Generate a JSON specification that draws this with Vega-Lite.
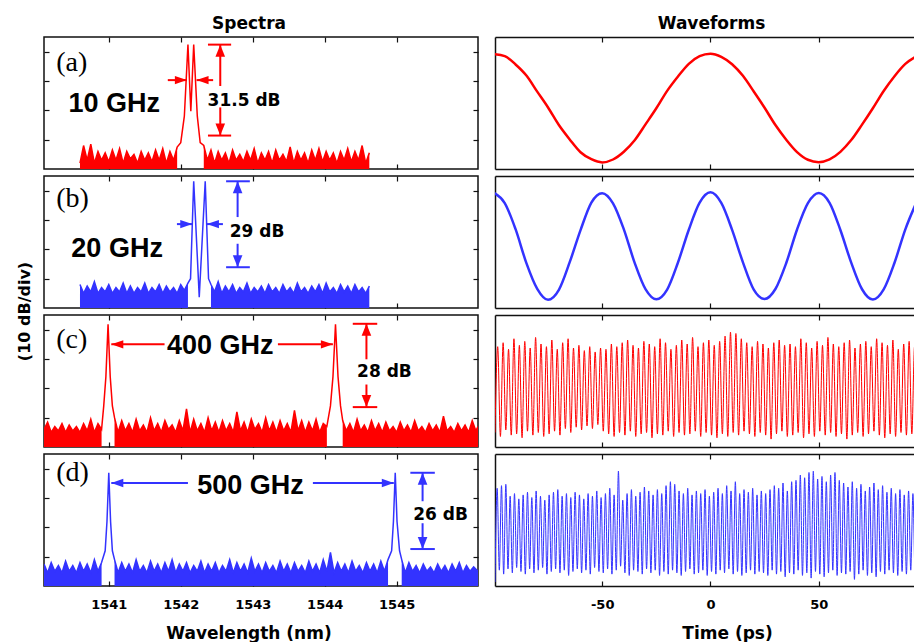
{
"$schema":"https://vega.github.io/schema/vega-lite/v6.json",
"padding":{"left":15,"top":14,"right":0,"bottom":0},
"bounds":"flush",
"config":{
 "view":{"stroke":"#111","strokeWidth":1.5},
 "font":"DejaVu Sans",
 "axis":{"domain":false,"domainColor":"#111","domainWidth":1.5,"grid":false,"ticks":true,"tickSize":-5,"tickColor":"#111","tickWidth":1.2,"labelFont":"DejaVu Sans","labelFontSize":13,"labelFontWeight":"bold","labelColor":"#000","labelPadding":17,"titleFont":"DejaVu Sans","titleFontSize":17,"titleFontWeight":"bold","titleColor":"#000"},
 "title":{"font":"DejaVu Sans","fontSize":17,"fontWeight":"bold","color":"#000","anchor":"middle","baseline":"alphabetic","offset":3}
},
"datasets":{
"sa":[{"x":1540.6,"y":2,"g":1},{"x":1540.65,"y":8,"g":1},{"x":1540.7,"y":3,"g":1},{"x":1540.75,"y":8.5,"g":1},{"x":1540.8,"y":2,"g":1},{"x":1540.85,"y":6,"g":1},{"x":1540.9,"y":3,"g":1},{"x":1540.95,"y":5.5,"g":1},{"x":1541,"y":2.5,"g":1},{"x":1541.05,"y":6.5,"g":1},{"x":1541.1,"y":3,"g":1},{"x":1541.15,"y":7,"g":1},{"x":1541.2,"y":2,"g":1},{"x":1541.25,"y":6,"g":1},{"x":1541.3,"y":3.5,"g":1},{"x":1541.35,"y":5,"g":1},{"x":1541.4,"y":2,"g":1},{"x":1541.45,"y":6,"g":1},{"x":1541.5,"y":3,"g":1},{"x":1541.55,"y":5.5,"g":1},{"x":1541.6,"y":2.5,"g":1},{"x":1541.65,"y":6.5,"g":1},{"x":1541.7,"y":3,"g":1},{"x":1541.75,"y":7,"g":1},{"x":1541.8,"y":2,"g":1},{"x":1541.85,"y":6,"g":1},{"x":1541.9,"y":3,"g":1},{"x":1541.95,"y":7.5,"g":1},
{"x":1542,"y":9,"g":"p"},{"x":1542.05,"y":18,"g":"p"},{"x":1542.1,"y":42.4,"g":"p"},{"x":1542.14,"y":19.7,"g":"p"},{"x":1542.18,"y":42.4,"g":"p"},{"x":1542.23,"y":18,"g":"p"},{"x":1542.27,"y":9,"g":"p"},
{"x":1542.32,"y":8,"g":2},{"x":1542.37,"y":3,"g":2},{"x":1542.42,"y":6.5,"g":2},{"x":1542.47,"y":2,"g":2},{"x":1542.52,"y":6,"g":2},{"x":1542.57,"y":3,"g":2},{"x":1542.62,"y":5.5,"g":2},{"x":1542.67,"y":2,"g":2},{"x":1542.72,"y":6.5,"g":2},{"x":1542.77,"y":3,"g":2},{"x":1542.82,"y":5,"g":2},{"x":1542.87,"y":2.5,"g":2},{"x":1542.92,"y":6,"g":2},{"x":1542.97,"y":3,"g":2},{"x":1543.02,"y":7,"g":2},{"x":1543.07,"y":2,"g":2},{"x":1543.12,"y":5.5,"g":2},{"x":1543.17,"y":3,"g":2},{"x":1543.22,"y":6,"g":2},{"x":1543.27,"y":2,"g":2},{"x":1543.32,"y":6.5,"g":2},{"x":1543.37,"y":3,"g":2},{"x":1543.42,"y":5,"g":2},{"x":1543.47,"y":2.5,"g":2},{"x":1543.52,"y":7.5,"g":2},{"x":1543.57,"y":2,"g":2},{"x":1543.62,"y":6,"g":2},{"x":1543.67,"y":3,"g":2},{"x":1543.72,"y":5.5,"g":2},{"x":1543.77,"y":2,"g":2},{"x":1543.82,"y":6.5,"g":2},{"x":1543.87,"y":3,"g":2},{"x":1543.92,"y":7,"g":2},{"x":1543.97,"y":2.5,"g":2},{"x":1544.02,"y":6,"g":2},{"x":1544.07,"y":3,"g":2},{"x":1544.12,"y":5.5,"g":2},{"x":1544.17,"y":2,"g":2},{"x":1544.22,"y":6,"g":2},{"x":1544.27,"y":3,"g":2},{"x":1544.32,"y":7,"g":2},{"x":1544.37,"y":2.5,"g":2},{"x":1544.42,"y":6,"g":2},{"x":1544.47,"y":3,"g":2},{"x":1544.52,"y":8,"g":2},{"x":1544.57,"y":2,"g":2},{"x":1544.62,"y":5.5,"g":2}],
"sb":[{"x":1540.6,"y":8,"g":1},{"x":1540.65,"y":5,"g":1},{"x":1540.7,"y":7.5,"g":1},{"x":1540.75,"y":5.5,"g":1},{"x":1540.8,"y":9,"g":1},{"x":1540.85,"y":5,"g":1},{"x":1540.9,"y":7,"g":1},{"x":1540.95,"y":5.5,"g":1},{"x":1541,"y":8,"g":1},{"x":1541.05,"y":5,"g":1},{"x":1541.1,"y":7,"g":1},{"x":1541.15,"y":5.5,"g":1},{"x":1541.2,"y":8.5,"g":1},{"x":1541.25,"y":5,"g":1},{"x":1541.3,"y":7.5,"g":1},{"x":1541.35,"y":5,"g":1},{"x":1541.4,"y":7,"g":1},{"x":1541.45,"y":5.5,"g":1},{"x":1541.5,"y":8.5,"g":1},{"x":1541.55,"y":5,"g":1},{"x":1541.6,"y":7,"g":1},{"x":1541.65,"y":5.5,"g":1},{"x":1541.7,"y":8,"g":1},{"x":1541.75,"y":5,"g":1},{"x":1541.8,"y":7.5,"g":1},{"x":1541.85,"y":5.5,"g":1},{"x":1541.9,"y":7,"g":1},{"x":1541.95,"y":5,"g":1},{"x":1542,"y":8,"g":1},{"x":1542.05,"y":6,"g":1},{"x":1542.1,"y":8.5,"g":1},
{"x":1542.136,"y":10,"g":"p"},{"x":1542.18,"y":43.2,"g":"p"},{"x":1542.257,"y":3.7,"g":"p"},{"x":1542.34,"y":43.2,"g":"p"},{"x":1542.386,"y":10,"g":"p"},
{"x":1542.42,"y":8,"g":2},{"x":1542.47,"y":5.5,"g":2},{"x":1542.52,"y":9,"g":2},{"x":1542.57,"y":5,"g":2},{"x":1542.62,"y":7.5,"g":2},{"x":1542.67,"y":5.5,"g":2},{"x":1542.72,"y":8,"g":2},{"x":1542.77,"y":5,"g":2},{"x":1542.82,"y":7,"g":2},{"x":1542.87,"y":5.5,"g":2},{"x":1542.92,"y":8.5,"g":2},{"x":1542.97,"y":5,"g":2},{"x":1543.02,"y":7,"g":2},{"x":1543.07,"y":5.5,"g":2},{"x":1543.12,"y":7.5,"g":2},{"x":1543.17,"y":5,"g":2},{"x":1543.22,"y":8,"g":2},{"x":1543.27,"y":5.5,"g":2},{"x":1543.32,"y":7,"g":2},{"x":1543.37,"y":5,"g":2},{"x":1543.42,"y":8,"g":2},{"x":1543.47,"y":5.5,"g":2},{"x":1543.52,"y":7,"g":2},{"x":1543.57,"y":5,"g":2},{"x":1543.62,"y":8.5,"g":2},{"x":1543.67,"y":5.5,"g":2},{"x":1543.72,"y":7,"g":2},{"x":1543.77,"y":5,"g":2},{"x":1543.82,"y":7.5,"g":2},{"x":1543.87,"y":5.5,"g":2},{"x":1543.92,"y":8,"g":2},{"x":1543.97,"y":5,"g":2},{"x":1544.02,"y":8.5,"g":2},{"x":1544.07,"y":5.5,"g":2},{"x":1544.12,"y":7,"g":2},{"x":1544.17,"y":5,"g":2},{"x":1544.22,"y":8,"g":2},{"x":1544.27,"y":5.5,"g":2},{"x":1544.32,"y":7.5,"g":2},{"x":1544.37,"y":5,"g":2},{"x":1544.42,"y":8,"g":2},{"x":1544.47,"y":5.5,"g":2},{"x":1544.52,"y":7,"g":2},{"x":1544.57,"y":5,"g":2},{"x":1544.62,"y":7.5,"g":2}],
"sc":[{"x":1540.1,"y":6,"g":1},{"x":1540.15,"y":8.5,"g":1},{"x":1540.2,"y":5,"g":1},{"x":1540.25,"y":7,"g":1},{"x":1540.3,"y":5.5,"g":1},{"x":1540.35,"y":8,"g":1},{"x":1540.4,"y":5,"g":1},{"x":1540.45,"y":7.5,"g":1},{"x":1540.5,"y":5.5,"g":1},{"x":1540.55,"y":7,"g":1},{"x":1540.6,"y":5,"g":1},{"x":1540.65,"y":8,"g":1},{"x":1540.7,"y":5.5,"g":1},{"x":1540.75,"y":9.5,"g":1},{"x":1540.8,"y":5,"g":1},{"x":1540.85,"y":8,"g":1},{"x":1540.9,"y":6,"g":1},
{"x":1540.93,"y":14,"g":"p"},{"x":1540.96,"y":24,"g":"p"},{"x":1540.99,"y":41.8,"g":"p"},{"x":1541.02,"y":24,"g":"p"},{"x":1541.05,"y":14,"g":"p"},
{"x":1541.08,"y":10,"g":2},{"x":1541.13,"y":5,"g":2},{"x":1541.18,"y":9,"g":2},{"x":1541.23,"y":5.5,"g":2},{"x":1541.28,"y":8,"g":2},{"x":1541.33,"y":5,"g":2},{"x":1541.38,"y":9.5,"g":2},{"x":1541.43,"y":5.5,"g":2},{"x":1541.48,"y":7.5,"g":2},{"x":1541.53,"y":5,"g":2},{"x":1541.58,"y":10,"g":2},{"x":1541.63,"y":5.5,"g":2},{"x":1541.68,"y":8,"g":2},{"x":1541.73,"y":5,"g":2},{"x":1541.78,"y":9,"g":2},{"x":1541.83,"y":6,"g":2},{"x":1541.88,"y":7.5,"g":2},{"x":1541.93,"y":5,"g":2},{"x":1541.98,"y":9,"g":2},{"x":1542.03,"y":5.5,"g":2},{"x":1542.08,"y":13,"g":2},{"x":1542.13,"y":5,"g":2},{"x":1542.18,"y":9.5,"g":2},{"x":1542.23,"y":5.5,"g":2},{"x":1542.28,"y":8,"g":2},{"x":1542.33,"y":5,"g":2},{"x":1542.38,"y":10,"g":2},{"x":1542.43,"y":5.5,"g":2},{"x":1542.48,"y":8.5,"g":2},{"x":1542.53,"y":5,"g":2},{"x":1542.58,"y":9,"g":2},{"x":1542.63,"y":5.5,"g":2},{"x":1542.68,"y":8,"g":2},{"x":1542.73,"y":5,"g":2},{"x":1542.78,"y":12,"g":2},{"x":1542.83,"y":5.5,"g":2},{"x":1542.88,"y":8.5,"g":2},{"x":1542.93,"y":5,"g":2},{"x":1542.98,"y":9.5,"g":2},{"x":1543.03,"y":6,"g":2},{"x":1543.08,"y":8,"g":2},{"x":1543.13,"y":5,"g":2},{"x":1543.18,"y":10,"g":2},{"x":1543.23,"y":5.5,"g":2},{"x":1543.28,"y":8.5,"g":2},{"x":1543.33,"y":5,"g":2},{"x":1543.38,"y":9,"g":2},{"x":1543.43,"y":5.5,"g":2},{"x":1543.48,"y":8,"g":2},{"x":1543.53,"y":5,"g":2},{"x":1543.58,"y":12.5,"g":2},{"x":1543.63,"y":5.5,"g":2},{"x":1543.68,"y":9,"g":2},{"x":1543.73,"y":5,"g":2},{"x":1543.78,"y":8.5,"g":2},{"x":1543.83,"y":5.5,"g":2},{"x":1543.88,"y":9.5,"g":2},{"x":1543.93,"y":5,"g":2},{"x":1543.98,"y":8,"g":2},{"x":1544.03,"y":7,"g":2},
{"x":1544.08,"y":14,"g":"p"},{"x":1544.115,"y":24,"g":"p"},{"x":1544.15,"y":41.8,"g":"p"},{"x":1544.185,"y":24,"g":"p"},{"x":1544.22,"y":14,"g":"p"},
{"x":1544.25,"y":9,"g":3},{"x":1544.3,"y":5.5,"g":3},{"x":1544.35,"y":8,"g":3},{"x":1544.4,"y":5,"g":3},{"x":1544.45,"y":9.5,"g":3},{"x":1544.5,"y":5.5,"g":3},{"x":1544.55,"y":7.5,"g":3},{"x":1544.6,"y":5,"g":3},{"x":1544.65,"y":9,"g":3},{"x":1544.7,"y":5.5,"g":3},{"x":1544.75,"y":8,"g":3},{"x":1544.8,"y":5,"g":3},{"x":1544.85,"y":8.5,"g":3},{"x":1544.9,"y":5.5,"g":3},{"x":1544.95,"y":7,"g":3},{"x":1545,"y":5,"g":3},{"x":1545.05,"y":8.5,"g":3},{"x":1545.1,"y":5.5,"g":3},{"x":1545.15,"y":7.5,"g":3},{"x":1545.2,"y":5,"g":3},{"x":1545.25,"y":9,"g":3},{"x":1545.3,"y":5.5,"g":3},{"x":1545.35,"y":7,"g":3},{"x":1545.4,"y":5,"g":3},{"x":1545.45,"y":8,"g":3},{"x":1545.5,"y":5.5,"g":3},{"x":1545.55,"y":7.5,"g":3},{"x":1545.6,"y":5,"g":3},{"x":1545.65,"y":10.5,"g":3},{"x":1545.7,"y":5.5,"g":3},{"x":1545.75,"y":7,"g":3},{"x":1545.8,"y":5,"g":3},{"x":1545.85,"y":8,"g":3},{"x":1545.9,"y":5.5,"g":3},{"x":1545.95,"y":7.5,"g":3},{"x":1546,"y":5,"g":3},{"x":1546.05,"y":9,"g":3},{"x":1546.1,"y":5.5,"g":3},{"x":1546.13,"y":7,"g":3}],
"sd":[{"x":1540.1,"y":7.5,"g":1},{"x":1540.15,"y":4.5,"g":1},{"x":1540.2,"y":8,"g":1},{"x":1540.25,"y":5,"g":1},{"x":1540.3,"y":7,"g":1},{"x":1540.35,"y":4.5,"g":1},{"x":1540.4,"y":8.5,"g":1},{"x":1540.45,"y":5,"g":1},{"x":1540.5,"y":7,"g":1},{"x":1540.55,"y":4.5,"g":1},{"x":1540.6,"y":8,"g":1},{"x":1540.65,"y":5,"g":1},{"x":1540.7,"y":7.5,"g":1},{"x":1540.75,"y":4.5,"g":1},{"x":1540.8,"y":9,"g":1},{"x":1540.85,"y":5,"g":1},{"x":1540.9,"y":8,"g":1},
{"x":1540.95,"y":12,"g":"p"},{"x":1540.975,"y":22,"g":"p"},{"x":1541,"y":38.6,"g":"p"},{"x":1541.025,"y":22,"g":"p"},{"x":1541.05,"y":12,"g":"p"},
{"x":1541.08,"y":9,"g":2},{"x":1541.13,"y":4.5,"g":2},{"x":1541.18,"y":8,"g":2},{"x":1541.23,"y":5,"g":2},{"x":1541.28,"y":7.5,"g":2},{"x":1541.33,"y":4.5,"g":2},{"x":1541.38,"y":9,"g":2},{"x":1541.43,"y":5,"g":2},{"x":1541.48,"y":7,"g":2},{"x":1541.53,"y":4.5,"g":2},{"x":1541.58,"y":8.5,"g":2},{"x":1541.63,"y":5,"g":2},{"x":1541.68,"y":7.5,"g":2},{"x":1541.73,"y":4.5,"g":2},{"x":1541.78,"y":8,"g":2},{"x":1541.83,"y":5,"g":2},{"x":1541.88,"y":9,"g":2},{"x":1541.93,"y":4.5,"g":2},{"x":1541.98,"y":7.5,"g":2},{"x":1542.03,"y":5,"g":2},{"x":1542.08,"y":8,"g":2},{"x":1542.13,"y":4.5,"g":2},{"x":1542.18,"y":7,"g":2},{"x":1542.23,"y":5,"g":2},{"x":1542.28,"y":8.5,"g":2},{"x":1542.33,"y":4.5,"g":2},{"x":1542.38,"y":7.5,"g":2},{"x":1542.43,"y":5,"g":2},{"x":1542.48,"y":8,"g":2},{"x":1542.53,"y":4.5,"g":2},{"x":1542.58,"y":7,"g":2},{"x":1542.63,"y":5,"g":2},{"x":1542.68,"y":9,"g":2},{"x":1542.73,"y":4.5,"g":2},{"x":1542.78,"y":8,"g":2},{"x":1542.83,"y":5,"g":2},{"x":1542.88,"y":7.5,"g":2},{"x":1542.93,"y":4.5,"g":2},{"x":1542.98,"y":9.5,"g":2},{"x":1543.03,"y":5,"g":2},{"x":1543.08,"y":7.5,"g":2},{"x":1543.13,"y":4.5,"g":2},{"x":1543.18,"y":8,"g":2},{"x":1543.23,"y":5,"g":2},{"x":1543.28,"y":7,"g":2},{"x":1543.33,"y":4.5,"g":2},{"x":1543.38,"y":8.5,"g":2},{"x":1543.43,"y":5,"g":2},{"x":1543.48,"y":7.5,"g":2},{"x":1543.53,"y":4.5,"g":2},{"x":1543.58,"y":8,"g":2},{"x":1543.63,"y":5,"g":2},{"x":1543.68,"y":7,"g":2},{"x":1543.73,"y":4.5,"g":2},{"x":1543.78,"y":8.5,"g":2},{"x":1543.83,"y":5,"g":2},{"x":1543.88,"y":7.5,"g":2},{"x":1543.93,"y":4.5,"g":2},{"x":1543.98,"y":9,"g":2},{"x":1544.03,"y":5,"g":2},{"x":1544.08,"y":11.5,"g":2},{"x":1544.13,"y":4.5,"g":2},{"x":1544.18,"y":8,"g":2},{"x":1544.23,"y":5,"g":2},{"x":1544.28,"y":7.5,"g":2},{"x":1544.33,"y":4.5,"g":2},{"x":1544.38,"y":8.5,"g":2},{"x":1544.43,"y":5,"g":2},{"x":1544.48,"y":7,"g":2},{"x":1544.53,"y":4.5,"g":2},{"x":1544.58,"y":8,"g":2},{"x":1544.63,"y":5,"g":2},{"x":1544.68,"y":7.5,"g":2},{"x":1544.73,"y":4.5,"g":2},{"x":1544.78,"y":8.5,"g":2},{"x":1544.83,"y":5,"g":2},{"x":1544.88,"y":9,"g":2},
{"x":1544.93,"y":12,"g":"p"},{"x":1544.955,"y":22,"g":"p"},{"x":1544.98,"y":38.6,"g":"p"},{"x":1545.005,"y":22,"g":"p"},{"x":1545.04,"y":12,"g":"p"},
{"x":1545.07,"y":9,"g":3},{"x":1545.12,"y":4.5,"g":3},{"x":1545.17,"y":8,"g":3},{"x":1545.22,"y":5,"g":3},{"x":1545.27,"y":7,"g":3},{"x":1545.32,"y":4.5,"g":3},{"x":1545.37,"y":7.5,"g":3},{"x":1545.42,"y":5,"g":3},{"x":1545.47,"y":6.5,"g":3},{"x":1545.52,"y":4.5,"g":3},{"x":1545.57,"y":7.5,"g":3},{"x":1545.62,"y":5,"g":3},{"x":1545.67,"y":7,"g":3},{"x":1545.72,"y":4.5,"g":3},{"x":1545.77,"y":7.5,"g":3},{"x":1545.82,"y":5,"g":3},{"x":1545.87,"y":8,"g":3},{"x":1545.92,"y":4.5,"g":3},{"x":1545.97,"y":7,"g":3},{"x":1546.02,"y":5,"g":3},{"x":1546.07,"y":6.5,"g":3},{"x":1546.13,"y":5,"g":3}],
"ar":[{"p":"a","x":1542.378,"y":42.4,"x2":1542.7,"y2":42.4},{"p":"a","x":1542.378,"y":11.4,"x2":1542.7,"y2":11.4},{"p":"a","x":1542.549,"y":42.4,"x2":1542.549,"y2":28.3},{"p":"a","x":1542.549,"y":21,"x2":1542.549,"y2":11.4},{"p":"a","x":1541.82,"y":30.3,"x2":1542.085,"y2":30.3},{"p":"a","x":1542.45,"y":30.3,"x2":1542.22,"y2":30.3},
{"p":"b","x":1542.63,"y":43.2,"x2":1542.96,"y2":43.2},{"p":"b","x":1542.63,"y":13.9,"x2":1542.96,"y2":13.9},{"p":"b","x":1542.79,"y":43.2,"x2":1542.79,"y2":31},{"p":"b","x":1542.79,"y":21.9,"x2":1542.79,"y2":13.9},{"p":"b","x":1541.947,"y":28.6,"x2":1542.16,"y2":28.6},{"p":"b","x":1542.586,"y":28.6,"x2":1542.364,"y2":28.6},
{"p":"c","x":1544.39,"y":42,"x2":1544.73,"y2":42},{"p":"c","x":1544.39,"y":13.6,"x2":1544.73,"y2":13.6},{"p":"c","x":1544.58,"y":42,"x2":1544.58,"y2":29.9},{"p":"c","x":1544.58,"y":21.3,"x2":1544.58,"y2":13.6},{"p":"c","x":1541.775,"y":35,"x2":1541.035,"y2":35},{"p":"c","x":1543.35,"y":35,"x2":1544.114,"y2":35},
{"p":"d","x":1545.19,"y":38.6,"x2":1545.53,"y2":38.6},{"p":"d","x":1545.19,"y":12.6,"x2":1545.53,"y2":12.6},{"p":"d","x":1545.36,"y":38.6,"x2":1545.36,"y2":28.9},{"p":"d","x":1545.36,"y":21.4,"x2":1545.36,"y2":12.6},{"p":"d","x":1542.1,"y":35.1,"x2":1541.035,"y2":35.1},{"p":"d","x":1543.836,"y":35.1,"x2":1544.96,"y2":35.1}],
"ah":[{"p":"a","x":1542.549,"y":42.4,"d":"up"},{"p":"a","x":1542.549,"y":11.4,"d":"down"},{"p":"a","x":1542.085,"y":30.3,"d":"right"},{"p":"a","x":1542.22,"y":30.3,"d":"left"},
{"p":"b","x":1542.79,"y":43.2,"d":"up"},{"p":"b","x":1542.79,"y":13.9,"d":"down"},{"p":"b","x":1542.16,"y":28.6,"d":"right"},{"p":"b","x":1542.364,"y":28.6,"d":"left"},
{"p":"c","x":1544.58,"y":42,"d":"up"},{"p":"c","x":1544.58,"y":13.6,"d":"down"},{"p":"c","x":1541.035,"y":35,"d":"left"},{"p":"c","x":1544.114,"y":35,"d":"right"},
{"p":"d","x":1545.36,"y":38.6,"d":"up"},{"p":"d","x":1545.36,"y":12.6,"d":"down"},{"p":"d","x":1541.035,"y":35.1,"d":"left"},{"p":"d","x":1544.96,"y":35.1,"d":"right"}],
"wa":[{"t":-100,"v":8.7},{"t":-95,"v":8.55},{"t":-90,"v":7.92},{"t":-85,"v":7.08},{"t":-80,"v":5.86},{"t":-75,"v":4.66},{"t":-70,"v":3.33},{"t":-65,"v":2.24},{"t":-60,"v":1.27},{"t":-55,"v":0.74},{"t":-50,"v":0.5},{"t":-45,"v":0.72},{"t":-40,"v":1.31},{"t":-35,"v":2.18},{"t":-30,"v":3.38},{"t":-25,"v":4.6},{"t":-20,"v":5.92},{"t":-15,"v":7.01},{"t":-10,"v":7.97},{"t":-5,"v":8.55},{"t":0,"v":8.74},{"t":5,"v":8.5},{"t":10,"v":7.94},{"t":15,"v":7.06},{"t":20,"v":5.87},{"t":25,"v":4.64},{"t":30,"v":3.33},{"t":35,"v":2.22},{"t":40,"v":1.28},{"t":45,"v":0.7},{"t":50,"v":0.52},{"t":55,"v":0.73},{"t":60,"v":1.3},{"t":65,"v":2.19},{"t":70,"v":3.36},{"t":75,"v":4.6},{"t":80,"v":5.91},{"t":85,"v":7.03},{"t":90,"v":7.96},{"t":95,"v":8.52}],
"wb":[{"t":-100,"v":8.72},{"t":-95,"v":7.95},{"t":-90,"v":5.97},{"t":-85,"v":3.4},{"t":-80,"v":1.45},{"t":-75,"v":0.62},{"t":-70,"v":1.38},{"t":-65,"v":3.47},{"t":-60,"v":5.9},{"t":-55,"v":7.99},{"t":-50,"v":8.7},{"t":-45,"v":7.93},{"t":-40,"v":5.96},{"t":-35,"v":3.42},{"t":-30,"v":1.43},{"t":-25,"v":0.66},{"t":-20,"v":1.4},{"t":-15,"v":3.45},{"t":-10,"v":5.93},{"t":-5,"v":7.98},{"t":0,"v":8.76},{"t":5,"v":7.96},{"t":10,"v":5.92},{"t":15,"v":3.46},{"t":20,"v":1.39},{"t":25,"v":0.68},{"t":30,"v":1.44},{"t":35,"v":3.41},{"t":40,"v":5.95},{"t":45,"v":7.94},{"t":50,"v":8.71},{"t":55,"v":7.97},{"t":60,"v":5.91},{"t":65,"v":3.44},{"t":70,"v":1.42},{"t":75,"v":0.64},{"t":80,"v":1.41},{"t":85,"v":3.43},{"t":90,"v":5.96},{"t":95,"v":7.95}],
"wc":[{"t":-99.5,"v":1.1},{"t":-98.25,"v":7.6},{"t":-97,"v":0.8},{"t":-95.75,"v":7.9},{"t":-94.5,"v":1.3},{"t":-93.25,"v":7.4},{"t":-92,"v":0.9},{"t":-90.75,"v":8.2},{"t":-89.5,"v":1.0},{"t":-88.25,"v":7.7},{"t":-87,"v":0.7},{"t":-85.75,"v":8.0},{"t":-84.5,"v":1.2},{"t":-83.25,"v":7.5},{"t":-82,"v":0.9},{"t":-80.75,"v":8.3},{"t":-79.5,"v":1.1},{"t":-78.25,"v":7.8},{"t":-77,"v":0.8},{"t":-75.75,"v":7.6},
{"t":-74.5,"v":1.0},{"t":-73.25,"v":8.1},{"t":-72,"v":1.2},{"t":-70.75,"v":7.4},{"t":-69.5,"v":0.9},{"t":-68.25,"v":7.9},{"t":-67,"v":1.4},{"t":-65.75,"v":8.2},{"t":-64.5,"v":1.1},{"t":-63.25,"v":7.5},{"t":-62,"v":1.5},{"t":-60.75,"v":7.7},{"t":-59.5,"v":1.3},{"t":-58.25,"v":7.3},{"t":-57,"v":1.6},{"t":-55.75,"v":7.6},{"t":-54.5,"v":1.4},{"t":-53.25,"v":7.2},{"t":-52,"v":1.7},{"t":-50.75,"v":7.5},
{"t":-49.5,"v":1.2},{"t":-48.25,"v":7.4},{"t":-47,"v":1.0},{"t":-45.75,"v":7.8},{"t":-44.5,"v":0.8},{"t":-43.25,"v":7.6},{"t":-42,"v":1.1},{"t":-40.75,"v":7.9},{"t":-39.5,"v":0.9},{"t":-38.25,"v":8.1},{"t":-37,"v":1.2},{"t":-35.75,"v":7.7},{"t":-34.5,"v":0.8},{"t":-33.25,"v":7.5},{"t":-32,"v":1.0},{"t":-30.75,"v":8.0},{"t":-29.5,"v":1.1},{"t":-28.25,"v":7.8},{"t":-27,"v":0.7},{"t":-25.75,"v":7.6},
{"t":-24.5,"v":1.0},{"t":-23.25,"v":8.2},{"t":-22,"v":0.9},{"t":-20.75,"v":7.9},{"t":-19.5,"v":1.2},{"t":-18.25,"v":7.4},{"t":-17,"v":0.8},{"t":-15.75,"v":7.7},{"t":-14.5,"v":1.1},{"t":-13.25,"v":8.1},{"t":-12,"v":0.9},{"t":-10.75,"v":7.8},{"t":-9.5,"v":1.0},{"t":-8.25,"v":8.3},{"t":-7,"v":1.2},{"t":-5.75,"v":7.6},{"t":-4.5,"v":0.8},{"t":-3.25,"v":7.9},{"t":-2,"v":1.1},{"t":-0.75,"v":8.1},
{"t":0.5,"v":0.9},{"t":1.75,"v":7.7},{"t":3,"v":0.7},{"t":4.25,"v":8.0},{"t":5.5,"v":1.0},{"t":6.75,"v":8.4},{"t":8,"v":0.8},{"t":9.25,"v":8.7},{"t":10.5,"v":1.1},{"t":11.75,"v":8.6},{"t":13,"v":0.9},{"t":14.25,"v":8.2},{"t":15.5,"v":1.2},{"t":16.75,"v":7.9},{"t":18,"v":1.0},{"t":19.25,"v":7.6},{"t":20.5,"v":0.8},{"t":21.75,"v":8.0},{"t":23,"v":1.1},{"t":24.25,"v":7.8},
{"t":25.5,"v":0.9},{"t":26.75,"v":7.5},{"t":28,"v":0.6},{"t":29.25,"v":7.9},{"t":30.5,"v":1.0},{"t":31.75,"v":8.1},{"t":33,"v":1.2},{"t":34.25,"v":7.7},{"t":35.5,"v":0.8},{"t":36.75,"v":7.8},{"t":38,"v":0.9},{"t":39.25,"v":7.6},{"t":40.5,"v":1.1},{"t":41.75,"v":8.2},{"t":43,"v":0.7},{"t":44.25,"v":7.9},{"t":45.5,"v":1.0},{"t":46.75,"v":7.5},{"t":48,"v":0.8},{"t":49.25,"v":8.0},
{"t":50.5,"v":1.2},{"t":51.75,"v":7.7},{"t":53,"v":0.9},{"t":54.25,"v":8.3},{"t":55.5,"v":1.1},{"t":56.75,"v":7.8},{"t":58,"v":0.8},{"t":59.25,"v":7.6},{"t":60.5,"v":1.0},{"t":61.75,"v":7.9},{"t":63,"v":0.6},{"t":64.25,"v":8.1},{"t":65.5,"v":0.9},{"t":66.75,"v":7.5},{"t":68,"v":1.1},{"t":69.25,"v":7.8},{"t":70.5,"v":0.8},{"t":71.75,"v":8.0},{"t":73,"v":1.0},{"t":74.25,"v":7.6},
{"t":75.5,"v":1.2},{"t":76.75,"v":8.2},{"t":78,"v":0.9},{"t":79.25,"v":7.9},{"t":80.5,"v":0.7},{"t":81.75,"v":7.7},{"t":83,"v":1.0},{"t":84.25,"v":8.1},{"t":85.5,"v":0.8},{"t":86.75,"v":7.4},{"t":88,"v":1.1},{"t":89.25,"v":7.8},{"t":90.5,"v":0.9},{"t":91.75,"v":8.0},{"t":93,"v":1.0},{"t":94.25,"v":7.6},{"t":95.5,"v":0.8}],
"wd":[{"t":-99.5,"v":0.3},{"t":-98.5,"v":7.4},{"t":-97.5,"v":1.2},{"t":-96.5,"v":7.6},{"t":-95.5,"v":0.9},{"t":-94.5,"v":7.7},{"t":-93.5,"v":1.3},{"t":-92.5,"v":6.8},{"t":-91.5,"v":1.0},{"t":-90.5,"v":7.0},{"t":-89.5,"v":1.4},{"t":-88.5,"v":6.6},{"t":-87.5,"v":1.1},{"t":-86.5,"v":6.9},{"t":-85.5,"v":0.9},{"t":-84.5,"v":7.1},{"t":-83.5,"v":1.3},{"t":-82.5,"v":6.7},{"t":-81.5,"v":1.0},{"t":-80.5,"v":7.2},
{"t":-79.5,"v":1.2},{"t":-78.5,"v":6.8},{"t":-77.5,"v":1.4},{"t":-76.5,"v":6.5},{"t":-75.5,"v":0.9},{"t":-74.5,"v":6.9},{"t":-73.5,"v":1.1},{"t":-72.5,"v":7.1},{"t":-71.5,"v":1.3},{"t":-70.5,"v":7.3},{"t":-69.5,"v":1.0},{"t":-68.5,"v":6.8},{"t":-67.5,"v":1.2},{"t":-66.5,"v":7.0},{"t":-65.5,"v":0.8},{"t":-64.5,"v":6.7},{"t":-63.5,"v":1.1},{"t":-62.5,"v":7.1},{"t":-61.5,"v":1.3},{"t":-60.5,"v":6.9},
{"t":-59.5,"v":1.0},{"t":-58.5,"v":6.6},{"t":-57.5,"v":1.2},{"t":-56.5,"v":7.0},{"t":-55.5,"v":0.9},{"t":-54.5,"v":6.8},{"t":-53.5,"v":1.4},{"t":-52.5,"v":7.2},{"t":-51.5,"v":1.1},{"t":-50.5,"v":6.7},{"t":-49.5,"v":1.0},{"t":-48.5,"v":7.0},{"t":-47.5,"v":1.3},{"t":-46.5,"v":7.4},{"t":-45.5,"v":0.9},{"t":-44.5,"v":6.9},{"t":-43.5,"v":1.2},{"t":-42.5,"v":8.7},{"t":-41.5,"v":1.5},{"t":-40.5,"v":6.5},
{"t":-39.5,"v":1.0},{"t":-38.5,"v":7.0},{"t":-37.5,"v":0.8},{"t":-36.5,"v":7.3},{"t":-35.5,"v":1.2},{"t":-34.5,"v":6.8},{"t":-33.5,"v":1.1},{"t":-32.5,"v":7.1},{"t":-31.5,"v":0.9},{"t":-30.5,"v":7.5},{"t":-29.5,"v":1.3},{"t":-28.5,"v":7.2},{"t":-27.5,"v":1.0},{"t":-26.5,"v":6.9},{"t":-25.5,"v":1.2},{"t":-24.5,"v":7.3},{"t":-23.5,"v":0.8},{"t":-22.5,"v":7.0},{"t":-21.5,"v":1.1},{"t":-20.5,"v":7.6},
{"t":-19.5,"v":0.9},{"t":-18.5,"v":7.9},{"t":-17.5,"v":1.2},{"t":-16.5,"v":7.7},{"t":-15.5,"v":1.0},{"t":-14.5,"v":7.2},{"t":-13.5,"v":0.8},{"t":-12.5,"v":7.0},{"t":-11.5,"v":1.1},{"t":-10.5,"v":7.4},{"t":-9.5,"v":1.3},{"t":-8.5,"v":6.9},{"t":-7.5,"v":0.9},{"t":-6.5,"v":7.2},{"t":-5.5,"v":1.0},{"t":-4.5,"v":7.0},{"t":-3.5,"v":1.2},{"t":-2.5,"v":7.3},{"t":-1.5,"v":0.8},{"t":-0.5,"v":6.8},
{"t":0.5,"v":1.1},{"t":1.5,"v":7.1},{"t":2.5,"v":0.9},{"t":3.5,"v":7.4},{"t":4.5,"v":1.2},{"t":5.5,"v":7.0},{"t":6.5,"v":1.0},{"t":7.5,"v":7.6},{"t":8.5,"v":1.3},{"t":9.5,"v":7.2},{"t":10.5,"v":0.9},{"t":11.5,"v":7.9},{"t":12.5,"v":1.1},{"t":13.5,"v":7.0},{"t":14.5,"v":0.8},{"t":15.5,"v":7.3},{"t":16.5,"v":1.0},{"t":17.5,"v":7.1},{"t":18.5,"v":1.2},{"t":19.5,"v":7.4},
{"t":20.5,"v":0.9},{"t":21.5,"v":6.9},{"t":22.5,"v":1.1},{"t":23.5,"v":7.2},{"t":24.5,"v":1.0},{"t":25.5,"v":7.0},{"t":26.5,"v":0.8},{"t":27.5,"v":7.3},{"t":28.5,"v":1.2},{"t":29.5,"v":7.6},{"t":30.5,"v":0.9},{"t":31.5,"v":7.4},{"t":32.5,"v":1.1},{"t":33.5,"v":7.8},{"t":34.5,"v":0.7},{"t":35.5,"v":7.2},{"t":36.5,"v":1.0},{"t":37.5,"v":7.9},{"t":38.5,"v":0.9},{"t":39.5,"v":8.0},
{"t":40.5,"v":1.2},{"t":41.5,"v":8.4},{"t":42.5,"v":0.8},{"t":43.5,"v":8.2},{"t":44.5,"v":1.0},{"t":45.5,"v":8.6},{"t":46.5,"v":0.6},{"t":47.5,"v":8.7},{"t":48.5,"v":1.1},{"t":49.5,"v":8.1},{"t":50.5,"v":0.9},{"t":51.5,"v":8.3},{"t":52.5,"v":0.7},{"t":53.5,"v":7.9},{"t":54.5,"v":1.0},{"t":55.5,"v":8.4},{"t":56.5,"v":1.2},{"t":57.5,"v":8.6},{"t":58.5,"v":0.8},{"t":59.5,"v":8.0},
{"t":60.5,"v":1.0},{"t":61.5,"v":7.8},{"t":62.5,"v":0.9},{"t":63.5,"v":7.5},{"t":64.5,"v":1.1},{"t":65.5,"v":7.9},{"t":66.5,"v":0.5},{"t":67.5,"v":7.4},{"t":68.5,"v":0.9},{"t":69.5,"v":7.7},{"t":70.5,"v":1.2},{"t":71.5,"v":7.2},{"t":72.5,"v":0.8},{"t":73.5,"v":7.5},{"t":74.5,"v":1.0},{"t":75.5,"v":7.8},{"t":76.5,"v":0.7},{"t":77.5,"v":7.3},{"t":78.5,"v":1.1},{"t":79.5,"v":7.6},
{"t":80.5,"v":0.9},{"t":81.5,"v":7.1},{"t":82.5,"v":1.2},{"t":83.5,"v":7.4},{"t":84.5,"v":1.0},{"t":85.5,"v":7.0},{"t":86.5,"v":0.8},{"t":87.5,"v":7.3},{"t":88.5,"v":1.1},{"t":89.5,"v":6.9},{"t":90.5,"v":0.9},{"t":91.5,"v":7.2},{"t":92.5,"v":1.2},{"t":93.5,"v":7.0},{"t":94.5,"v":1.0},{"t":95.5,"v":7.3}]
},
"columns":2,
"spacing":{"row":7,"column":17},
"concat":[
{"width":434,"height":132,"title":{"text":"Spectra","dx":-12},
 "encoding":{"x":{"field":"x","type":"quantitative","scale":{"domain":[1540.1,1546.13],"nice":false,"zero":false},"axis":null},"y":{"field":"y","type":"quantitative","scale":{"domain":[0,45],"nice":false,"zero":false},"axis":null}},
 "layer":[
  {"data":{"name":"sa"},"transform":[{"filter":"datum.g!='p'"}],"mark":{"type":"area","color":"#ff0000","clip":true},"encoding":{"detail":{"field":"g","type":"nominal"},"x":{"field":"x","type":"quantitative","scale":{"domain":[1540.1,1546.13],"nice":false,"zero":false},"axis":{"orient":"bottom","values":[1541,1542,1543,1544,1545],"labels":false,"title":null}},"y":{"field":"y","type":"quantitative","stack":null,"scale":{"domain":[0,45],"nice":false,"zero":false},"axis":{"orient":"left","values":[10,20,30,40],"labels":false,"title":null}}}},
  {"data":{"name":"sa"},"mark":{"type":"line","color":"#ff0000","strokeWidth":1.5,"clip":true},"encoding":{"x":{"field":"x","type":"quantitative","scale":{"domain":[1540.1,1546.13],"nice":false,"zero":false},"axis":{"orient":"top","values":[1541,1542,1543,1544,1545],"labels":false,"title":null}},"y":{"field":"y","type":"quantitative","scale":{"domain":[0,45],"nice":false,"zero":false},"axis":{"orient":"right","values":[10,20,30,40],"labels":false,"title":null}}}},
  {"data":{"name":"ar"},"transform":[{"filter":"datum.p=='a'"}],"mark":{"type":"rule","color":"#ff0000","strokeWidth":2},"encoding":{"x2":{"field":"x2"},"y2":{"field":"y2"}}},
  {"data":{"name":"ah"},"transform":[{"filter":"datum.p=='a'"}],"mark":{"type":"point","filled":true,"opacity":1,"strokeWidth":0,"size":144,"color":"#ff0000"},"encoding":{"shape":{"field":"d","type":"nominal","scale":{"domain":["up","down","left","right"],"range":["M0,0L-0.8,2L0.8,2Z","M0,0L-0.8,-2L0.8,-2Z","M0,0L2,-0.7L2,0.7Z","M0,0L-2,-0.7L-2,0.7Z"]},"legend":null}}},
  {"data":{"values":[{"x":1540.27,"y":33.5,"t":"(a)"}]},"mark":{"type":"text","font":"Liberation Serif","fontSize":28,"align":"left","baseline":"alphabetic","color":"#000"},"encoding":{"text":{"field":"t","type":"nominal"}}},
  {"data":{"values":[{"x":1540.44,"y":19.5,"t":"10 GHz"}]},"mark":{"type":"text","font":"Liberation Sans","fontWeight":"bold","fontSize":27,"align":"left","baseline":"alphabetic","color":"#000"},"encoding":{"text":{"field":"t","type":"nominal"}}},
  {"data":{"values":[{"x":1542.88,"y":23.3,"t":"31.5 dB"}]},"mark":{"type":"text","font":"DejaVu Sans","fontWeight":"bold","fontSize":17,"align":"center","baseline":"middle","color":"#000"},"encoding":{"text":{"field":"t","type":"nominal"}}}
 ],
 "resolve":{"axis":{"x":"independent","y":"independent"}}},
{"width":419,"height":132,"title":{"text":"Waveforms","dx":7},"view":{"stroke":null},"data":{"name":"wa"},
 "layer":[
  {"mark":{"type":"line","color":"#ff0000","strokeWidth":2.5,"interpolate":"monotone","clip":true},"encoding":{"x":{"field":"t","type":"quantitative","scale":{"domain":[-99.5,94],"nice":false,"zero":false},"axis":{"orient":"bottom","values":[-50,0,50],"labels":false,"title":null,"domain":true}},"y":{"field":"v","type":"quantitative","scale":{"domain":[0,10],"nice":false,"zero":false},"axis":{"orient":"left","ticks":false,"labels":false,"title":null,"domain":true}}}},
  {"mark":{"type":"point","opacity":0},"encoding":{"x":{"field":"t","type":"quantitative","scale":{"domain":[-99.5,94],"nice":false,"zero":false},"axis":{"orient":"top","values":[-50,0,50],"labels":false,"title":null,"domain":true}},"y":{"field":"v","type":"quantitative","scale":{"domain":[0,10],"nice":false,"zero":false},"axis":null}}}
 ],
 "resolve":{"axis":{"x":"independent","y":"independent"}}},
{"width":434,"height":132,
 "encoding":{"x":{"field":"x","type":"quantitative","scale":{"domain":[1540.1,1546.13],"nice":false,"zero":false},"axis":null},"y":{"field":"y","type":"quantitative","scale":{"domain":[0,45],"nice":false,"zero":false},"axis":null}},
 "layer":[
  {"data":{"name":"sb"},"transform":[{"filter":"datum.g!='p'"}],"mark":{"type":"area","color":"#3333ff","clip":true},"encoding":{"detail":{"field":"g","type":"nominal"},"x":{"field":"x","type":"quantitative","scale":{"domain":[1540.1,1546.13],"nice":false,"zero":false},"axis":{"orient":"bottom","values":[1541,1542,1543,1544,1545],"labels":false,"title":null}},"y":{"field":"y","type":"quantitative","stack":null,"scale":{"domain":[0,45],"nice":false,"zero":false},"axis":{"orient":"left","values":[10,20,30,40],"labels":false,"title":null}}}},
  {"data":{"name":"sb"},"mark":{"type":"line","color":"#3333ff","strokeWidth":1.5,"clip":true},"encoding":{"x":{"field":"x","type":"quantitative","scale":{"domain":[1540.1,1546.13],"nice":false,"zero":false},"axis":{"orient":"top","values":[1541,1542,1543,1544,1545],"labels":false,"title":null}},"y":{"field":"y","type":"quantitative","scale":{"domain":[0,45],"nice":false,"zero":false},"axis":{"orient":"right","values":[10,20,30,40],"labels":false,"title":null}}}},
  {"data":{"name":"ar"},"transform":[{"filter":"datum.p=='b'"}],"mark":{"type":"rule","color":"#3333ff","strokeWidth":2},"encoding":{"x2":{"field":"x2"},"y2":{"field":"y2"}}},
  {"data":{"name":"ah"},"transform":[{"filter":"datum.p=='b'"}],"mark":{"type":"point","filled":true,"opacity":1,"strokeWidth":0,"size":144,"color":"#3333ff"},"encoding":{"shape":{"field":"d","type":"nominal","scale":{"domain":["up","down","left","right"],"range":["M0,0L-0.8,2L0.8,2Z","M0,0L-0.8,-2L0.8,-2Z","M0,0L2,-0.7L2,0.7Z","M0,0L-2,-0.7L-2,0.7Z"]},"legend":null}}},
  {"data":{"values":[{"x":1540.27,"y":34.4,"t":"(b)"}]},"mark":{"type":"text","font":"Liberation Serif","fontSize":28,"align":"left","baseline":"alphabetic","color":"#000"},"encoding":{"text":{"field":"t","type":"nominal"}}},
  {"data":{"values":[{"x":1540.48,"y":17.3,"t":"20 GHz"}]},"mark":{"type":"text","font":"Liberation Sans","fontWeight":"bold","fontSize":27,"align":"left","baseline":"alphabetic","color":"#000"},"encoding":{"text":{"field":"t","type":"nominal"}}},
  {"data":{"values":[{"x":1543.06,"y":25.9,"t":"29 dB"}]},"mark":{"type":"text","font":"DejaVu Sans","fontWeight":"bold","fontSize":17,"align":"center","baseline":"middle","color":"#000"},"encoding":{"text":{"field":"t","type":"nominal"}}}
 ],
 "resolve":{"axis":{"x":"independent","y":"independent"}}},
{"width":419,"height":132,"view":{"stroke":null},"data":{"name":"wb"},
 "layer":[
  {"mark":{"type":"line","color":"#3333ff","strokeWidth":2.5,"interpolate":"monotone","clip":true},"encoding":{"x":{"field":"t","type":"quantitative","scale":{"domain":[-99.5,94],"nice":false,"zero":false},"axis":{"orient":"bottom","values":[-50,0,50],"labels":false,"title":null,"domain":true}},"y":{"field":"v","type":"quantitative","scale":{"domain":[0,10],"nice":false,"zero":false},"axis":{"orient":"left","ticks":false,"labels":false,"title":null,"domain":true}}}},
  {"mark":{"type":"point","opacity":0},"encoding":{"x":{"field":"t","type":"quantitative","scale":{"domain":[-99.5,94],"nice":false,"zero":false},"axis":{"orient":"top","values":[-50,0,50],"labels":false,"title":null,"domain":true}},"y":{"field":"v","type":"quantitative","scale":{"domain":[0,10],"nice":false,"zero":false},"axis":null}}}
 ],
 "resolve":{"axis":{"x":"independent","y":"independent"}}},
{"width":434,"height":132,
 "encoding":{"x":{"field":"x","type":"quantitative","scale":{"domain":[1540.1,1546.13],"nice":false,"zero":false},"axis":null},"y":{"field":"y","type":"quantitative","scale":{"domain":[0,45],"nice":false,"zero":false},"axis":null}},
 "layer":[
  {"data":{"name":"sc"},"transform":[{"filter":"datum.g!='p'"}],"mark":{"type":"area","color":"#ff0000","clip":true},"encoding":{"detail":{"field":"g","type":"nominal"},"x":{"field":"x","type":"quantitative","scale":{"domain":[1540.1,1546.13],"nice":false,"zero":false},"axis":{"orient":"bottom","values":[1541,1542,1543,1544,1545],"labels":false,"title":null}},"y":{"field":"y","type":"quantitative","stack":null,"scale":{"domain":[0,45],"nice":false,"zero":false},"axis":{"orient":"left","values":[10,20,30,40],"labels":false,"title":"(10 dB/div)","titleFontSize":16,"titleX":-20,"titleY":-4,"titleBaseline":"middle","titleAlign":"center","titleAngle":270}}}},
  {"data":{"name":"sc"},"mark":{"type":"line","color":"#ff0000","strokeWidth":1.5,"clip":true},"encoding":{"x":{"field":"x","type":"quantitative","scale":{"domain":[1540.1,1546.13],"nice":false,"zero":false},"axis":{"orient":"top","values":[1541,1542,1543,1544,1545],"labels":false,"title":null}},"y":{"field":"y","type":"quantitative","scale":{"domain":[0,45],"nice":false,"zero":false},"axis":{"orient":"right","values":[10,20,30,40],"labels":false,"title":null}}}},
  {"data":{"name":"ar"},"transform":[{"filter":"datum.p=='c'"}],"mark":{"type":"rule","color":"#ff0000","strokeWidth":2},"encoding":{"x2":{"field":"x2"},"y2":{"field":"y2"}}},
  {"data":{"name":"ah"},"transform":[{"filter":"datum.p=='c'"}],"mark":{"type":"point","filled":true,"opacity":1,"strokeWidth":0,"size":144,"color":"#ff0000"},"encoding":{"shape":{"field":"d","type":"nominal","scale":{"domain":["up","down","left","right"],"range":["M0,0L-0.8,2L0.8,2Z","M0,0L-0.8,-2L0.8,-2Z","M0,0L2,-0.7L2,0.7Z","M0,0L-2,-0.7L-2,0.7Z"]},"legend":null}}},
  {"data":{"values":[{"x":1540.27,"y":33.8,"t":"(c)"}]},"mark":{"type":"text","font":"Liberation Serif","fontSize":28,"align":"left","baseline":"alphabetic","color":"#000"},"encoding":{"text":{"field":"t","type":"nominal"}}},
  {"data":{"values":[{"x":1542.55,"y":34.4,"t":"400 GHz"}]},"mark":{"type":"text","font":"Liberation Sans","fontWeight":"bold","fontSize":27,"align":"center","baseline":"middle","color":"#000"},"encoding":{"text":{"field":"t","type":"nominal"}}},
  {"data":{"values":[{"x":1544.83,"y":25.6,"t":"28 dB"}]},"mark":{"type":"text","font":"DejaVu Sans","fontWeight":"bold","fontSize":17,"align":"center","baseline":"middle","color":"#000"},"encoding":{"text":{"field":"t","type":"nominal"}}}
 ],
 "resolve":{"axis":{"x":"independent","y":"independent"}}},
{"width":419,"height":132,"view":{"stroke":null},"data":{"name":"wc"},
 "layer":[
  {"mark":{"type":"line","color":"#ff0000","strokeWidth":1,"interpolate":"monotone","clip":true},"encoding":{"x":{"field":"t","type":"quantitative","scale":{"domain":[-99.5,94],"nice":false,"zero":false},"axis":{"orient":"bottom","values":[-50,0,50],"labels":false,"title":null,"domain":true}},"y":{"field":"v","type":"quantitative","scale":{"domain":[0,10],"nice":false,"zero":false},"axis":{"orient":"left","ticks":false,"labels":false,"title":null,"domain":true}}}},
  {"mark":{"type":"point","opacity":0},"encoding":{"x":{"field":"t","type":"quantitative","scale":{"domain":[-99.5,94],"nice":false,"zero":false},"axis":{"orient":"top","values":[-50,0,50],"labels":false,"title":null,"domain":true}},"y":{"field":"v","type":"quantitative","scale":{"domain":[0,10],"nice":false,"zero":false},"axis":null}}}
 ],
 "resolve":{"axis":{"x":"independent","y":"independent"}}},
{"width":434,"height":132,
 "encoding":{"x":{"field":"x","type":"quantitative","scale":{"domain":[1540.1,1546.13],"nice":false,"zero":false},"axis":null},"y":{"field":"y","type":"quantitative","scale":{"domain":[0,45],"nice":false,"zero":false},"axis":null}},
 "layer":[
  {"data":{"name":"sd"},"transform":[{"filter":"datum.g!='p'"}],"mark":{"type":"area","color":"#3333ff","clip":true},"encoding":{"detail":{"field":"g","type":"nominal"},"x":{"field":"x","type":"quantitative","scale":{"domain":[1540.1,1546.13],"nice":false,"zero":false},"axis":{"orient":"bottom","values":[1541,1542,1543,1544,1545],"labelExpr":"datum.value + ''","title":"Wavelength (nm)","titleX":204.5,"titleY":52,"titleBaseline":"alphabetic","titleAlign":"center"}},"y":{"field":"y","type":"quantitative","stack":null,"scale":{"domain":[0,45],"nice":false,"zero":false},"axis":{"orient":"left","values":[10,20,30,40],"labels":false,"title":null}}}},
  {"data":{"name":"sd"},"mark":{"type":"line","color":"#3333ff","strokeWidth":1.5,"clip":true},"encoding":{"x":{"field":"x","type":"quantitative","scale":{"domain":[1540.1,1546.13],"nice":false,"zero":false},"axis":{"orient":"top","values":[1541,1542,1543,1544,1545],"labels":false,"title":null}},"y":{"field":"y","type":"quantitative","scale":{"domain":[0,45],"nice":false,"zero":false},"axis":{"orient":"right","values":[10,20,30,40],"labels":false,"title":null}}}},
  {"data":{"name":"ar"},"transform":[{"filter":"datum.p=='d'"}],"mark":{"type":"rule","color":"#3333ff","strokeWidth":2},"encoding":{"x2":{"field":"x2"},"y2":{"field":"y2"}}},
  {"data":{"name":"ah"},"transform":[{"filter":"datum.p=='d'"}],"mark":{"type":"point","filled":true,"opacity":1,"strokeWidth":0,"size":144,"color":"#3333ff"},"encoding":{"shape":{"field":"d","type":"nominal","scale":{"domain":["up","down","left","right"],"range":["M0,0L-0.8,2L0.8,2Z","M0,0L-0.8,-2L0.8,-2Z","M0,0L2,-0.7L2,0.7Z","M0,0L-2,-0.7L-2,0.7Z"]},"legend":null}}},
  {"data":{"values":[{"x":1540.27,"y":35.7,"t":"(d)"}]},"mark":{"type":"text","font":"Liberation Serif","fontSize":28,"align":"left","baseline":"alphabetic","color":"#000"},"encoding":{"text":{"field":"t","type":"nominal"}}},
  {"data":{"values":[{"x":1542.97,"y":34,"t":"500 GHz"}]},"mark":{"type":"text","font":"Liberation Sans","fontWeight":"bold","fontSize":27,"align":"center","baseline":"middle","color":"#000"},"encoding":{"text":{"field":"t","type":"nominal"}}},
  {"data":{"values":[{"x":1545.61,"y":24.3,"t":"26 dB"}]},"mark":{"type":"text","font":"DejaVu Sans","fontWeight":"bold","fontSize":17,"align":"center","baseline":"middle","color":"#000"},"encoding":{"text":{"field":"t","type":"nominal"}}}
 ],
 "resolve":{"axis":{"x":"independent","y":"independent"}}},
{"width":419,"height":132,"view":{"stroke":null},"data":{"name":"wd"},
 "layer":[
  {"mark":{"type":"line","color":"#3333ff","strokeWidth":1,"interpolate":"monotone","clip":true},"encoding":{"x":{"field":"t","type":"quantitative","scale":{"domain":[-99.5,94],"nice":false,"zero":false},"axis":{"orient":"bottom","values":[-50,0,50],"labelExpr":"datum.value + ''","title":"Time (ps)","titleX":232,"titleY":52,"titleBaseline":"alphabetic","titleAlign":"center","domain":true}},"y":{"field":"v","type":"quantitative","scale":{"domain":[0,10],"nice":false,"zero":false},"axis":{"orient":"left","ticks":false,"labels":false,"title":null,"domain":true}}}},
  {"mark":{"type":"point","opacity":0},"encoding":{"x":{"field":"t","type":"quantitative","scale":{"domain":[-99.5,94],"nice":false,"zero":false},"axis":{"orient":"top","values":[-50,0,50],"labels":false,"title":null,"domain":true}},"y":{"field":"v","type":"quantitative","scale":{"domain":[0,10],"nice":false,"zero":false},"axis":null}}}
 ],
 "resolve":{"axis":{"x":"independent","y":"independent"}}}
]
}
